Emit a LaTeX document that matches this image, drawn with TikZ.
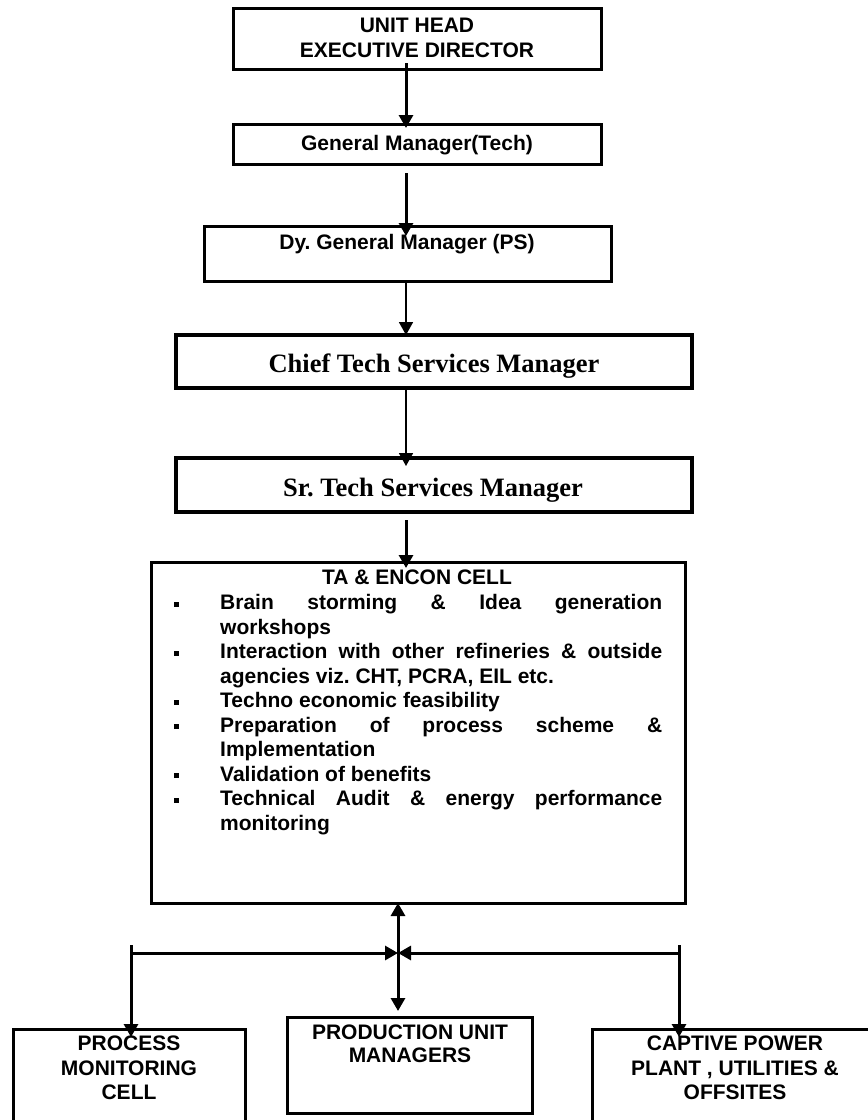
\documentclass[tikz,border=0pt]{standalone}
\usepackage{fontspec}
\setmainfont{Liberation Serif}
\newfontfamily\arialfont{Liberation Sans}
\usetikzlibrary{arrows.meta}
\newcommand{\sqbullet}{\leavevmode\llap{\rule[3pt]{5pt}{5pt}\hspace{41pt}}}
\frenchspacing
\begin{document}
\begin{tikzpicture}[x=1pt,y=-1pt,
  frame/.style={draw, line width=3pt, inner sep=0pt, outer sep=0pt, anchor=north west},
  txt/.style={anchor=base, inner sep=0pt, outer sep=0pt},
  sans/.style={font=\frenchspacing\arialfont\bfseries\fontsize{21}{24.5}\selectfont},
  serif/.style={font=\frenchspacing\bfseries\fontsize{26.5}{30}\selectfont},
  tip/.tip={Triangle[width=14pt,length=13pt]},
  arr/.style={-tip, line width=3pt},
  thinarr/.style={-tip, line width=1.8pt},
  dblarr/.style={tip-tip, line width=3pt}
]
\useasboundingbox (0,0) rectangle (868,1120);
\clip (0,0) rectangle (868,1120);
\fill[white] (0,0) rectangle (868,1120);

% boxes
\node[frame, minimum width=368pt, minimum height=61pt] (b1) at (233,8) {};
\node[frame, minimum width=368pt, minimum height=40pt] (b2) at (233,124) {};
\node[frame, minimum width=407pt, minimum height=55pt] (b3) at (204,226) {};
\node[frame, line width=3.3pt, minimum width=516pt, minimum height=53pt] (b4) at (176,335) {};
\node[frame, line width=3.3pt, minimum width=516pt, minimum height=54pt] (b5) at (176,458) {};
\node[frame, minimum width=534pt, minimum height=341pt] (b6) at (151,562) {};
\node[frame, minimum width=232pt, minimum height=100pt] (b7) at (13,1029) {};
\node[frame, minimum width=245pt, minimum height=96pt] (b8) at (287,1017) {};
\node[frame, minimum width=290pt, minimum height=100pt] (b9) at (592,1029) {};

% texts
\node[txt, sans] (t1) at (417,32.5) {\parbox[t]{360pt}{\centering\baselineskip=25pt UNIT HEAD\\EXECUTIVE DIRECTOR}};
\node[txt, sans] (t2) at (417,150.5) {General Manager(Tech)};
\node[txt, sans] (t3) at (407,249.5) {Dy. General Manager (PS)};
\node[txt, serif] (t4) at (434,372) {Chief Tech Services Manager};
\node[txt, serif] (t5) at (433,496) {Sr. Tech Services Manager};
\node[txt, sans] (t6) at (417,584.5) {TA \& ENCON CELL};
\node[sans, anchor=base west, inner sep=0pt] (t6list) at (220,609.5) {\parbox[t]{442pt}{\baselineskip=24.5pt
\sqbullet\makebox[442pt][s]{Brain storming \& Idea generation}\\
workshops\\
\sqbullet\makebox[442pt][s]{Interaction with other refineries \& outside}\\
agencies viz. CHT, PCRA, EIL etc.\\
\sqbullet Techno economic feasibility\\
\sqbullet\makebox[442pt][s]{Preparation of process scheme \&}\\
Implementation\\
\sqbullet Validation of benefits\\
\sqbullet\makebox[442pt][s]{Technical Audit \& energy performance}\\
monitoring}};
\node[txt, sans] (t7) at (129,1050.5) {\parbox[t]{230pt}{\centering\baselineskip=24.5pt PROCESS\\MONITORING\\CELL}};
\node[txt, sans] (t8) at (410,1039.5) {\parbox[t]{240pt}{\centering\baselineskip=23pt PRODUCTION UNIT\\MANAGERS}};
\node[txt, sans] (t9) at (735,1050.5) {\parbox[t]{280pt}{\centering\baselineskip=24.5pt CAPTIVE POWER\\PLANT , UTILITIES \&\\OFFSITES}};

% connector x positions
\coordinate (ax) at (406,0);
\coordinate (bx) at (398,0);
\coordinate (hl) at (131,953);
\coordinate (hr) at (679,953);
\coordinate (hc) at (398,953);
\coordinate (vl) at (131,945);
\coordinate (vr) at (679,945);

\draw[arr, shorten <=-6pt, shorten >=-4pt] (b1.south -| ax) -- (b2.north -| ax);
\draw[arr, shorten <=9pt, shorten >=-10pt] (b2.south -| ax) -- (b3.north -| ax);
\draw[thinarr] (b3.south -| ax) -- (b4.north -| ax);
\draw[thinarr, shorten >=-8pt] (b4.south -| ax) -- (b5.north -| ax);
\draw[arr, shorten <=8pt, shorten >=-6pt] (b5.south -| ax) -- (b6.north -| ax);

\draw[dblarr, shorten >=6pt] (b6.south -| bx) -- (b8.north -| bx);
\draw[arr] (hl) -- (hc);
\draw[arr] (hr) -- (hc);
\draw[arr, shorten >=-8pt] (vl) -- (b7.north -| vl);
\draw[arr, shorten >=-8pt] (vr) -- (b9.north -| vr);
\end{tikzpicture}
\end{document}
